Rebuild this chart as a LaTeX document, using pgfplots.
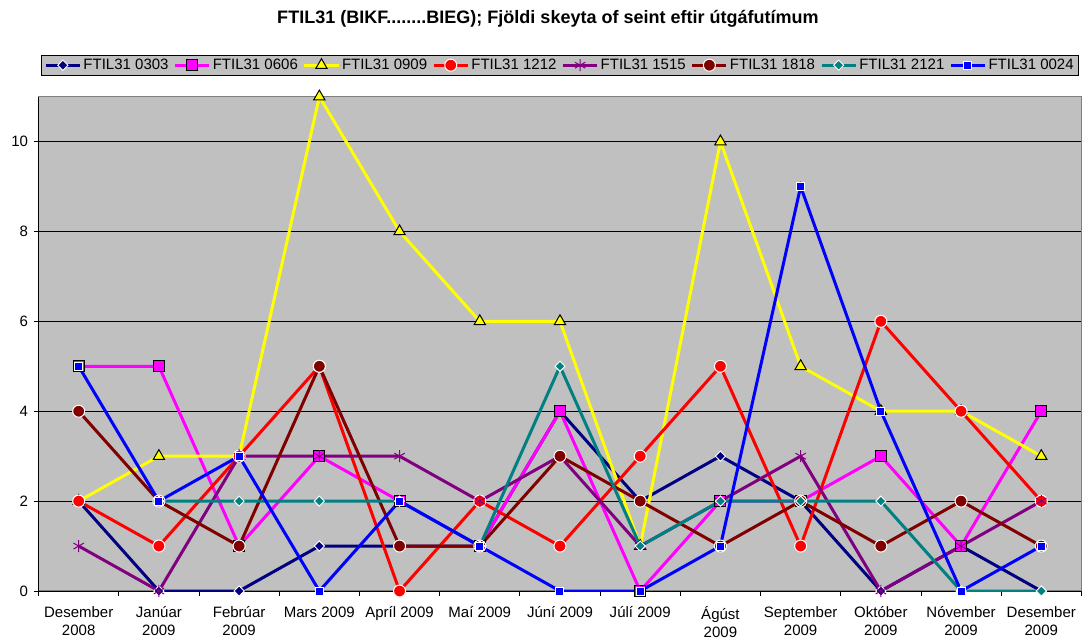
\documentclass[border={8pt 0pt 0pt 7pt}]{standalone}
\usepackage{fontspec}
\setmainfont{Liberation Sans}
\usepackage{pgfplots}
\usepackage{pgfplotstable}
\pgfplotsset{compat=1.18}

\definecolor{xnavy}{HTML}{000080}
\definecolor{xmag}{HTML}{FF00FF}
\definecolor{xyel}{HTML}{FFFF00}
\definecolor{xred}{HTML}{FF0000}
\definecolor{xpur}{HTML}{800080}
\definecolor{xmar}{HTML}{800000}
\definecolor{xteal}{HTML}{008080}
\definecolor{xblue}{HTML}{0000FF}
\definecolor{plotbg}{HTML}{C0C0C0}
\definecolor{plotedge}{HTML}{808080}

% months 0..12 = Des 2008 ... Des 2009
\pgfplotstableread{
m  a0303 a0606 a0909 a1212 a1515 a1818 a2121 a0024
0  2     5     2     2     1     4     nan   5
1  0     5     3     1     0     2     2     2
2  0     1     3     3     3     1     2     3
3  1     3     11    5     3     5     2     0
4  1     2     8     0     3     1     2     2
5  1     1     6     2     2     1     1     1
6  4     4     6     1     3     3     5     0
7  2     0     1     3     1     2     1     0
8  3     2     10    5     2     1     2     1
9  2     2     5     1     3     2     2     9
10 0     3     4     6     0     1     2     4
11 1     1     4     4     1     2     0     0
12 0     4     3     2     2     1     0     1
}\datatable

\begin{document}
\begin{tikzpicture}
\begin{axis}[
  scale only axis, width=1042pt, height=494pt,
  xmin=-0.5, xmax=12.5, ymin=0, ymax=11,
  axis x line*=bottom, axis y line*=left,
  axis line style={black, line width=0.8pt, -},
  axis background/.style={fill=plotbg, draw=plotedge, line width=1.2pt},
  font=\fontsize{15}{18}\selectfont,
  /pgf/number format/assume math mode=true,
  ytick={0,2,...,10},
  ymajorgrids, grid style={black, line width=0.8pt},
  xtick={0,...,12},
  major x tick style={draw=none},
  minor xtick={-0.5,0.5,...,12.5},
  minor tick length=5pt, major tick length=5pt,
  tick align=outside, tick style={black, line width=0.8pt},
  xticklabels={{Desember\\2008},{Janúar\\2009},{Febrúar\\2009},{Mars 2009},{Apríl 2009},{Maí 2009},{Júní 2009},{Júlí 2009},{Ágúst\\2009},{September\\2009},{Október\\2009},{Nóvember\\2009},{Desember\\2009}},
  xticklabel style={align=center, yshift=-7pt},
  yticklabel style={xshift=-2pt},
  unbounded coords=jump,
  title={FTIL31 (BIKF........BIEG); Fjöldi skeyta of seint eftir útgáfutímum},
  title style={at={(0.5,1)}, anchor=base, yshift=67pt, xshift=-12pt, font=\fontsize{18}{21}\selectfont\bfseries},
  legend columns=8,
  legend style={at={(0.5,1)}, anchor=south, yshift=21pt, fill=plotbg, draw=black, line width=0.8pt,
    font=\fontsize{15}{18}\selectfont, inner ysep=2pt, inner xsep=3pt,
    /tikz/every even column/.append style={column sep=3pt}},
  legend image code/.code={\draw[mark repeat=2, mark phase=2] plot coordinates {(0cm,0cm) (0.6cm,0cm) (1.2cm,0cm)};},
  every axis plot/.append style={line width=3pt},
]
\addplot[xnavy, mark=square*, mark size=3.6pt, mark options={rotate=45, fill=xnavy, draw=white, line width=0.9pt}] table[x=m, y=a0303] {\datatable};
\addplot[xmag, mark=square*, mark size=5.5pt, mark options={fill=xmag, draw=black, line width=1pt}] table[x=m, y=a0606] {\datatable};
\addplot[xyel, mark=triangle*, mark size=6.5pt, mark options={fill=xyel, draw=black, line width=1pt}] table[x=m, y=a0909] {\datatable};
\addplot[xred, mark=*, mark size=6pt, mark options={fill=xred, draw=white, line width=1pt}] table[x=m, y=a1212] {\datatable};
\addplot[xpur, mark=asterisk, mark size=6pt, mark options={draw=xpur, line width=1pt}] table[x=m, y=a1515] {\datatable};
\addplot[xmar, mark=*, mark size=6pt, mark options={fill=xmar, draw=white, line width=1pt}] table[x=m, y=a1818] {\datatable};
\addplot[xteal, mark=square*, mark size=3.6pt, mark options={rotate=45, fill=xteal, draw=white, line width=0.9pt}] table[x=m, y=a2121] {\datatable};
\addplot[xblue, mark=square*, mark size=4pt, mark options={fill=xblue, draw=white, line width=1pt}] table[x=m, y=a0024] {\datatable};
\legend{FTIL31 0303, FTIL31 0606, FTIL31 0909, FTIL31 1212, FTIL31 1515, FTIL31 1818, FTIL31 2121, FTIL31 0024}
\end{axis}
\end{tikzpicture}
\end{document}
